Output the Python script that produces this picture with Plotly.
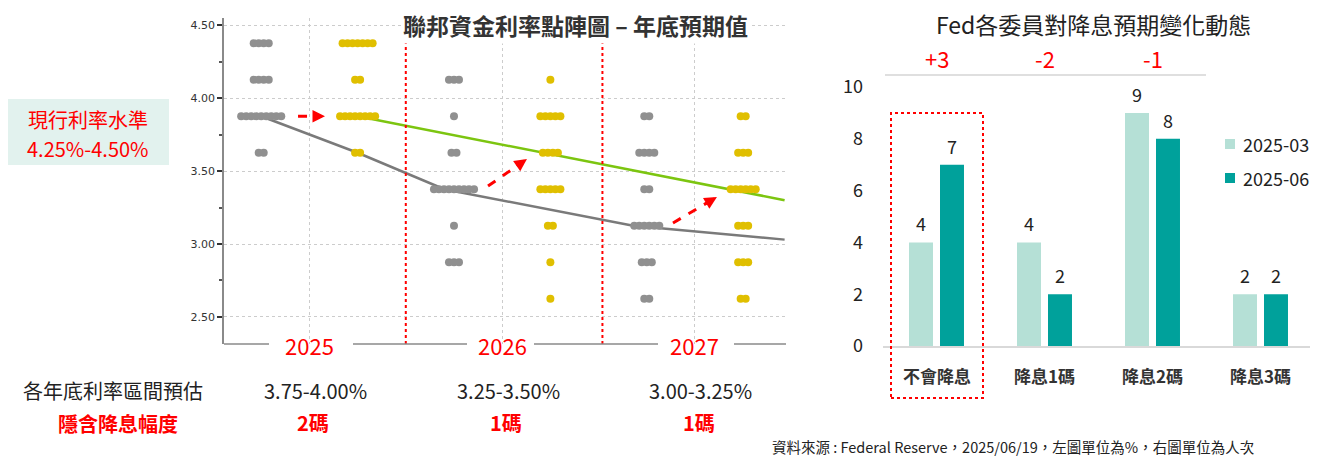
import plotly.graph_objects as go

W, H = 1318, 457
OFF = 8  # the page body margin shifts the figure by 8px
FW, FH = W - OFF, H - OFF

# ---- left panel: FOMC dot plot (participants at each rate level) ----
rate_levels = [4.375, 4.125, 3.875, 3.625, 3.375, 3.125, 2.875, 2.625]
col_x = [0.5, 1.5, 2.5, 3.5, 4.5, 5.5]
mar_2025 = [4, 4, 9, 2, 0, 0, 0, 0]
jun_2025 = [7, 2, 8, 2, 0, 0, 0, 0]
mar_2026 = [0, 3, 1, 2, 9, 1, 3, 0]
jun_2026 = [0, 1, 5, 4, 5, 2, 1, 1]
mar_2027 = [0, 0, 2, 4, 2, 6, 3, 2]
jun_2027 = [0, 0, 2, 3, 6, 3, 3, 2]

# median paths (March = gray, June = green)
mar_path_x = [0.5, 1.5, 2.4, 4.36, 5.93]
mar_path_y = [3.875, 3.625, 3.375, 3.125, 3.03]
jun_path_x = [1.5, 5.93]
jun_path_y = [3.875, 3.30]

years = ["2025", "2026", "2027"]
year_x = [1, 3, 5]
year_range = ["3.75-4.00%", "3.25-3.50%", "3.00-3.25%"]
implied_cuts = ["2碼", "1碼", "1碼"]

# ---- right panel: how many members expect each number of cuts ----
cut_categories = ["不會降息", "降息1碼", "降息2碼", "降息3碼"]
releases = ["2025-03", "2025-06"]
votes_mar = [4, 4, 9, 2]
votes_jun = [7, 2, 8, 2]

GRAY_DOT = "#909090"
YELLOW_DOT = "#e0bf00"
LIGHT_TEAL = "#b5e0d6"
TEAL = "#00a19b"
RED = "#ff0000"
CJK = "Noto Sans CJK TC"
DOT_STEP = 0.052  # horizontal spacing of stacked dots, in x units


def px(x):
    return (x - OFF) / FW


def py(y):
    return 1 - (y - OFF) / FH


def label(x, y, text, size, color, xref="paper", yref="paper", **kw):
    d = dict(x=x, y=y, xref=xref, yref=yref, text=text, showarrow=False,
             xanchor="center", yanchor="middle",
             font=dict(family=CJK, size=size, color=color))
    d.update(kw)
    return d


fig = go.Figure()

# median lines under the dots
fig.add_trace(go.Scatter(x=mar_path_x, y=mar_path_y, mode="lines",
                         line=dict(color="#7a7a7a", width=2.5),
                         hoverinfo="skip", showlegend=False))
fig.add_trace(go.Scatter(x=jun_path_x, y=jun_path_y, mode="lines",
                         line=dict(color="#7cc510", width=2.5),
                         hoverinfo="skip", showlegend=False))

columns = [
    (col_x[0], mar_2025, GRAY_DOT),
    (col_x[1], jun_2025, YELLOW_DOT),
    (col_x[2], mar_2026, GRAY_DOT),
    (col_x[3], jun_2026, YELLOW_DOT),
    (col_x[4], mar_2027, GRAY_DOT),
    (col_x[5], jun_2027, YELLOW_DOT),
]
for cx, counts, color in columns:
    xs, ys = [], []
    for level, n in zip(rate_levels, counts):
        for i in range(n):
            xs.append(cx + (i - (n - 1) / 2) * DOT_STEP)
            ys.append(level)
    fig.add_trace(go.Scatter(x=xs, y=ys, mode="markers",
                             marker=dict(size=8, color=color, line=dict(width=0)),
                             hoverinfo="skip", showlegend=False))

# bars
for name, votes, color in [(releases[0], votes_mar, LIGHT_TEAL), (releases[1], votes_jun, TEAL)]:
    fig.add_trace(go.Bar(x=cut_categories, y=votes, name=name, marker_color=color,
                         marker_line_width=0, xaxis="x2", yaxis="y2", showlegend=False))

shapes = []
annotations = []

# red dotted year separators
for sx in [2.0, 4.04]:
    shapes.append(dict(type="line", xref="x", yref="y", x0=sx, x1=sx, y0=2.315, y1=4.38,
                       line=dict(color=RED, width=2, dash="dot")))

# bottom axis line with gaps for the year labels
for a, b in [(224, 269), (353, 467), (534, 658), (734, 786)]:
    shapes.append(dict(type="line", xref="paper", yref="paper", x0=px(a), x1=px(b),
                       y0=py(344), y1=py(344), line=dict(color="#8a8a8a", width=1.5)))

# dashed red arrows (tail -> head)
arrows = [((0.882, 3.875), (1.162, 3.875)),
          ((2.853, 3.397), (3.257, 3.582)),
          ((4.772, 3.144), (5.228, 3.322))]
for (x0, y0), (x1, y1) in arrows:
    shapes.append(dict(type="line", xref="x", yref="y", x0=x0, y0=y0,
                       x1=x0 + (x1 - x0) * 0.8, y1=y0 + (y1 - y0) * 0.8,
                       line=dict(color=RED, width=3, dash="dash")))
    annotations.append(dict(x=x1, y=y1, xref="x", yref="y", axref="x", ayref="y",
                            ax=x0 + (x1 - x0) * 0.7, ay=y0 + (y1 - y0) * 0.7,
                            text="", showarrow=True, arrowhead=2, arrowsize=1,
                            arrowwidth=2.5, arrowcolor=RED))

# current rate box
shapes.append(dict(type="rect", xref="paper", yref="paper", x0=px(8), x1=px(169),
                   y0=py(165), y1=py(99), fillcolor="#e2f2ee", line=dict(width=0), layer="below"))
annotations.append(label(px(88), py(119), "現行利率水準", 20, RED))
annotations.append(label(px(88), py(148), "4.25%-4.50%", 20, RED))

# left title
annotations.append(label(px(575), py(25), "<b>聯邦資金利率點陣圖 – 年底預期值</b>", 23, "#333333",
                         bgcolor="white"))

# year labels and bottom table
for yr, xv, rng, cut in zip(years, year_x, year_range, implied_cuts):
    annotations.append(label(xv, py(345), yr, 22, RED, xref="x"))
    annotations.append(label(xv, py(390), rng, 20, "#222222", xref="x", xshift=6))
    annotations.append(label(xv, py(422), f"<b>{cut}</b>", 20, RED, xref="x", xshift=4))
annotations.append(label(px(113), py(390), "各年底利率區間預估", 20, "#222222"))
annotations.append(label(px(118), py(423), "<b>隱含降息幅度</b>", 20, RED))

# right title
annotations.append(label(px(1093), py(24), "Fed各委員對降息預期變化動態", 23, "#222222",
                         borderpad=0))

# change in number of members
for cat, m, j in zip(cut_categories, votes_mar, votes_jun):
    if j - m != 0:
        annotations.append(label(cat, py(58), f"{j - m:+d}", 22, RED, xref="x2"))
shapes.append(dict(type="line", xref="paper", yref="paper", x0=px(885), x1=px(1206),
                   y0=py(75), y1=py(75), line=dict(color="#bfbfbf", width=1)))

# bar value labels and category labels
for cat, m, j in zip(cut_categories, votes_mar, votes_jun):
    annotations.append(label(cat, m, str(m), 18, "#222222", xref="x2", yref="y2",
                             xshift=-15.5, yshift=19))
    annotations.append(label(cat, j, str(j), 18, "#222222", xref="x2", yref="y2",
                             xshift=15.5, yshift=19))
    annotations.append(label(cat, py(375), f"<b>{cat}</b>", 17, "#333333", xref="x2"))

# red dotted box around "no cut"
shapes.append(dict(type="rect", xref="paper", yref="paper", x0=px(891), x1=px(983),
                   y0=py(398), y1=py(113), line=dict(color=RED, width=2, dash="dot")))

# manual legend
for i, (name, color) in enumerate(zip(releases, [LIGHT_TEAL, TEAL])):
    cy = 144 + 34 * i
    shapes.append(dict(type="rect", xref="paper", yref="paper", x0=px(1225), x1=px(1235),
                       y0=py(cy + 5), y1=py(cy - 5), fillcolor=color, line=dict(width=0)))
    annotations.append(label(px(1241), py(cy), name, 18, "#222222", xanchor="left"))

# source note
annotations.append(label(px(770), py(446),
                         "資料來源 : Federal Reserve，2025/06/19，左圖單位為%，右圖單位為人次",
                         14.5, "#222222", xanchor="left"))

fig.update_layout(
    width=FW, height=FH,
    margin=dict(l=0, r=0, t=0, b=0, autoexpand=False),
    paper_bgcolor="white", plot_bgcolor="white",
    barmode="group", bargap=0.426, bargroupgap=0.226,
    showlegend=False,
    xaxis=dict(domain=[px(224), px(785)], range=[0.114, 5.934], anchor="y", automargin=False,
               tickvals=year_x, showticklabels=False, ticks="",
               showgrid=True, gridcolor="#cccccc", griddash="dot", gridwidth=1,
               zeroline=False, showline=False),
    yaxis=dict(domain=[py(344), py(18)], range=[2.315, 4.548], anchor="x", automargin=False,
               tickvals=[2.5, 3.0, 3.5, 4.0, 4.5], tickformat=".2f",
               tickfont=dict(family="DejaVu Sans", size=11, color="#333333"),
               ticks="outside", ticklen=5, tickwidth=1.5, tickcolor="#333333",
               minor=dict(tickvals=[2.75, 3.25, 3.75, 4.25], ticks="outside", ticklen=3,
                          tickcolor="#555555", showgrid=False),
               showgrid=True, gridcolor="#cccccc", griddash="dot", gridwidth=1,
               zeroline=False, showline=True, linecolor="#8a8a8a", linewidth=1.5),
    xaxis2=dict(domain=[px(882.5), px(1314.5)], range=[-0.5, 3.5], anchor="y2", automargin=False,
                showticklabels=False, ticks="", showgrid=False, zeroline=False,
                showline=True, linecolor="#d9d9d9", linewidth=1.5),
    yaxis2=dict(domain=[py(346), py(81.8)], range=[0, 10.2], anchor="x2", automargin=False,
                tickvals=[0, 2, 4, 6, 8, 10],
                tickfont=dict(family=CJK, size=18, color="#222222"),
                ticks="outside", ticklen=15, tickcolor="rgba(0,0,0,0)",
                showgrid=False, zeroline=False, showline=False),
    shapes=shapes,
    annotations=annotations,
)

fig.write_html("out.html")
